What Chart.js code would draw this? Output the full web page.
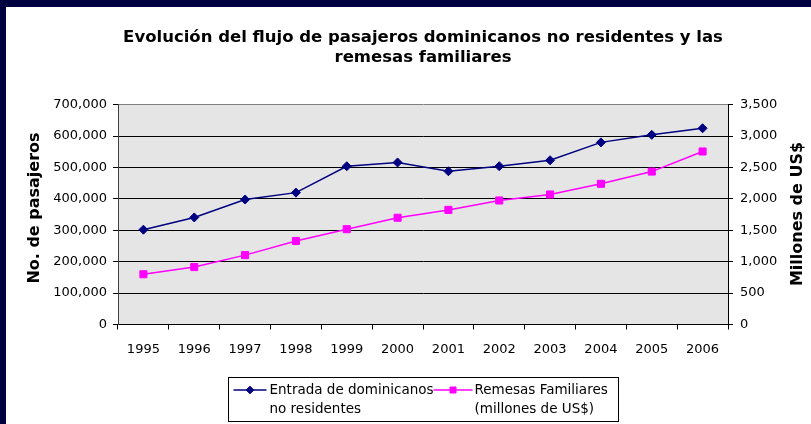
<!DOCTYPE html>
<html>
<head>
<meta charset="utf-8">
<script src="https://cdn.jsdelivr.net/npm/chart.js@4.4.1/dist/chart.umd.min.js"></script>
<style>
  html, body { margin: 0; padding: 0; background: #fff; }
  #wrap { width: 811px; height: 424px; }
</style>
</head>
<body>
<div id="wrap"><canvas id="chart" width="811" height="424"></canvas></div>
<script>
// Data
const years = ['1995', '1996', '1997', '1998', '1999', '2000', '2001', '2002', '2003', '2004', '2005', '2006'];
const pasajeros = [302000, 341000, 398000, 420000, 504000, 516000, 488000, 504000, 523000, 580000, 604000, 625000];
const remesas = [800, 915, 1105, 1330, 1518, 1700, 1825, 1975, 2070, 2240, 2435, 2755];

const pasajerosLabel = ['Entrada de dominicanos', 'no residentes'];
const remesasLabel = ['Remesas Familiares', '(millones de US$)'];
const chartTitle = ['Evolución del flujo de pasajeros dominicanos no residentes y las', 'remesas familiares'];
const leftTitle = 'No. de pasajeros';
const rightTitle = 'Millones de US$';

const NAVY = '#000040';
const PLOT_FILL = '#e5e5e5';
const FONT = 'DejaVu Sans';

function fmt(v) {
  return Number(v).toLocaleString('en-US');
}

// background, frame, axis titles and the boxed legend
const decor = {
  id: 'decor',
  beforeDraw(chart) {
    const { ctx, chartArea: a, width, height } = chart;
    ctx.save();
    ctx.fillStyle = '#fff';
    ctx.fillRect(0, 0, width, height);
    ctx.fillStyle = NAVY;
    ctx.fillRect(0, 0, width, 7);
    ctx.fillRect(0, 0, 6, height);
    ctx.fillStyle = PLOT_FILL;
    ctx.fillRect(a.left, a.top, a.right - a.left, a.bottom - a.top);
    ctx.restore();
  },
  afterDraw(chart) {
    const { ctx, chartArea: a } = chart;
    ctx.save();

    // axis titles, both read bottom to top
    ctx.fillStyle = '#000';
    ctx.font = 'bold 16px ' + FONT;
    ctx.textAlign = 'center';
    ctx.textBaseline = 'middle';
    ctx.save();
    ctx.translate(35, 208);
    ctx.rotate(-Math.PI / 2);
    ctx.fillText(leftTitle, 0, 0);
    ctx.restore();
    ctx.save();
    ctx.translate(798, 214);
    ctx.rotate(-Math.PI / 2);
    ctx.fillText(rightTitle, 0, 0);
    ctx.restore();

    // legend box, centred under the plot
    ctx.font = '13.5px ' + FONT;
    ctx.textAlign = 'left';
    const boxW = 390, boxH = 44;
    const boxX = Math.round((a.left + a.right) / 2 - boxW / 2) + 0.5;
    const boxY = 377.5;
    ctx.strokeStyle = '#000';
    ctx.lineWidth = 1;
    ctx.strokeRect(boxX, boxY, boxW, boxH);

    const line1 = 390, line2 = 409;
    const slots = [
      { from: 5, to: 38, text: 41 },
      { from: 205, to: 244, text: 246 }
    ];
    chart.data.datasets.forEach((ds, i) => {
      const s = slots[i];
      const x0 = boxX + s.from, x1 = boxX + s.to;
      ctx.strokeStyle = ds.borderColor;
      ctx.lineWidth = ds.borderWidth;
      ctx.beginPath();
      ctx.moveTo(x0, line1);
      ctx.lineTo(x1, line1);
      ctx.stroke();
      ctx.fillStyle = ds.pointBackgroundColor;
      ctx.strokeStyle = ds.pointBorderColor;
      ctx.lineWidth = 1;
      Chart.helpers.drawPoint(ctx, {
        pointStyle: ds.pointStyle,
        radius: ds.pointRadius * 0.85,
        rotation: 0,
        borderWidth: 1
      }, (x0 + x1) / 2, line1);
      ctx.fillStyle = '#000';
      ctx.fillText(ds.label[0], boxX + s.text, line1);
      ctx.fillText(ds.label[1], boxX + s.text, line2);
    });
    ctx.restore();
  }
};

const tickFont = { family: FONT, size: 13 };

new Chart(document.getElementById('chart'), {
  type: 'line',
  data: {
    labels: years,
    datasets: [
      {
        label: pasajerosLabel,
        data: pasajeros,
        yAxisID: 'y',
        borderColor: '#000080',
        backgroundColor: '#000080',
        pointBackgroundColor: '#000080',
        pointBorderColor: '#000080',
        borderWidth: 1.5,
        pointStyle: 'rectRot',
        pointRadius: 4.5,
        pointBorderWidth: 1,
        tension: 0
      },
      {
        label: remesasLabel,
        data: remesas,
        yAxisID: 'y1',
        borderColor: '#ff00ff',
        backgroundColor: '#ff00ff',
        pointBackgroundColor: '#ff00ff',
        pointBorderColor: '#ff00ff',
        borderWidth: 1.5,
        pointStyle: 'rect',
        pointRadius: 5,
        pointBorderWidth: 1,
        tension: 0
      }
    ]
  },
  options: {
    responsive: false,
    animation: false,
    devicePixelRatio: 1,
    layout: { padding: 0 },
    plugins: {
      legend: { display: false },
      tooltip: { enabled: false },
      title: {
        display: true,
        fullSize: false,
        text: chartTitle,
        color: '#000',
        font: { family: FONT, size: 16.5, weight: 'bold', lineHeight: 1.25 },
        padding: { top: 27, bottom: 36.45 }
      }
    },
    scales: {
      x: {
        offset: true,
        grid: { offset: true, drawOnChartArea: false, drawTicks: true, tickLength: 5, tickColor: '#000' },
        border: { color: '#000' },
        ticks: { color: '#000', font: tickFont, padding: 12, maxRotation: 0, autoSkip: false },
        afterFit(s) { s.height = 99.5; }
      },
      y: {
        position: 'left',
        min: 0,
        max: 700000,
        grid: {
          color: ctx => (ctx.tick && ctx.tick.value === 700000 ? '#808080' : '#000'),
          tickColor: '#000',
          tickLength: 5
        },
        border: { color: '#404040' },
        ticks: { stepSize: 100000, color: '#000', font: tickFont, padding: 6, callback: v => fmt(v) },
        afterFit(s) { s.width = 118; }
      },
      y1: {
        position: 'right',
        min: 0,
        max: 3500,
        grid: { drawOnChartArea: false, tickColor: '#000', tickLength: 5 },
        border: { color: '#000' },
        ticks: { stepSize: 500, color: '#000', font: tickFont, padding: 7, callback: v => fmt(v) },
        afterFit(s) { s.width = 83; }
      }
    }
  },
  plugins: [decor]
});
</script>
</body>
</html>
